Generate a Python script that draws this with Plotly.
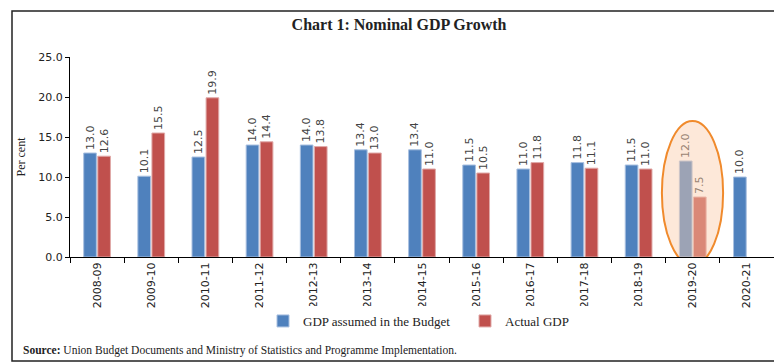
import plotly.graph_objects as go

years = ["2008-09", "2009-10", "2010-11", "2011-12", "2012-13", "2013-14", "2014-15",
         "2015-16", "2016-17", "2017-18", "2018-19", "2019-20", "2020-21"]
budget_gdp = [13.0, 10.1, 12.5, 14.0, 14.0, 13.4, 13.4, 11.5, 11.0, 11.8, 11.5, 12.0, 10.0]
actual_gdp = [12.6, 15.5, 19.9, 14.4, 13.8, 13.0, 11.0, 10.5, 11.8, 11.1, 11.0, 7.5, None]

BLUE = "#4F81BD"
RED = "#C0504D"
TICKFONT = dict(family="DejaVu Sans", size=11, color="#222222")
SERIF = "Liberation Serif"
LABELFONT = dict(family="DejaVu Sans", size=11, color="#444444")

fig = go.Figure()
fig.add_trace(go.Bar(
    x=years, y=budget_gdp, name="GDP assumed in the Budget",
    marker=dict(color=BLUE, line=dict(color="#A9C0E0", width=1)),
    text=[f"{v:.1f}" for v in budget_gdp], textposition="outside", textangle=-90,
    textfont=LABELFONT, cliponaxis=False,
))
fig.add_trace(go.Bar(
    x=years, y=actual_gdp, name="Actual GDP",
    marker=dict(color=RED, line=dict(color="#E0A9A8", width=1)),
    text=["" if v is None else f"{v:.1f}" for v in actual_gdp], textposition="outside", textangle=-90,
    textfont=LABELFONT, cliponaxis=False,
))

fig.update_layout(
    width=782, height=362,
    margin=dict(l=62, r=16, t=49, b=113),
    paper_bgcolor="white", plot_bgcolor="white",
    barmode="group", bargap=0.48, bargroupgap=0.1,
    uniformtext=dict(minsize=11, mode="show"),
    title=dict(text="<b>Chart 1: Nominal GDP Growth</b>", x=0.5, xanchor="center",
               y=0.955, yanchor="middle", font=dict(family=SERIF, size=16, color="#222222")),
    xaxis=dict(type="category", showline=True, linecolor="black", linewidth=1,
               ticks="outside", tickson="boundaries", ticklen=5, tickcolor="black",
               tickangle=-90, tickfont=TICKFONT, showgrid=False),
    yaxis=dict(range=[0, 25], dtick=5, tickformat=".1f", showline=True, linecolor="black",
               linewidth=1, ticks="outside", ticklen=4, tickcolor="black",
               tickfont=TICKFONT, showgrid=False, zeroline=False,
               title=dict(text="Per cent", font=dict(family=SERIF, size=12, color="#222222"),
                          standoff=10)),
    legend=dict(orientation="h", x=(255 - 62) / 704, xanchor="left", y=-0.32, yanchor="middle",
                font=dict(family=SERIF, size=13, color="#222222"), itemwidth=30,
                entrywidth=157, entrywidthmode="pixels", traceorder="normal"),
    showlegend=True,
)

# highlight ellipse around 2019-20
fig.add_shape(type="circle", xref="x", yref="y", x0=10.43, x1=11.56, y0=-1, y1=17,
              fillcolor="rgba(250,205,170,0.45)", line=dict(color="#F08A2C", width=2),
              layer="above")

# outer border
fig.add_shape(type="rect", xref="paper", yref="paper",
              x0=(4 - 62) / 704, x1=(778 - 62) / 704, y0=(249 - 353) / 200, y1=(249 - 3) / 200,
              line=dict(color="#222222", width=1.5), fillcolor="rgba(0,0,0,0)")

fig.add_annotation(xref="paper", yref="paper", x=(13 - 62) / 704, y=(249 - 342) / 200,
                   xanchor="left", yanchor="middle", showarrow=False,
                   text="<b>Source:</b> Union Budget Documents and Ministry of Statistics and Programme Implementation.",
                   font=dict(family=SERIF, size=11.5, color="#222222"))

fig.write_html("out.html")
